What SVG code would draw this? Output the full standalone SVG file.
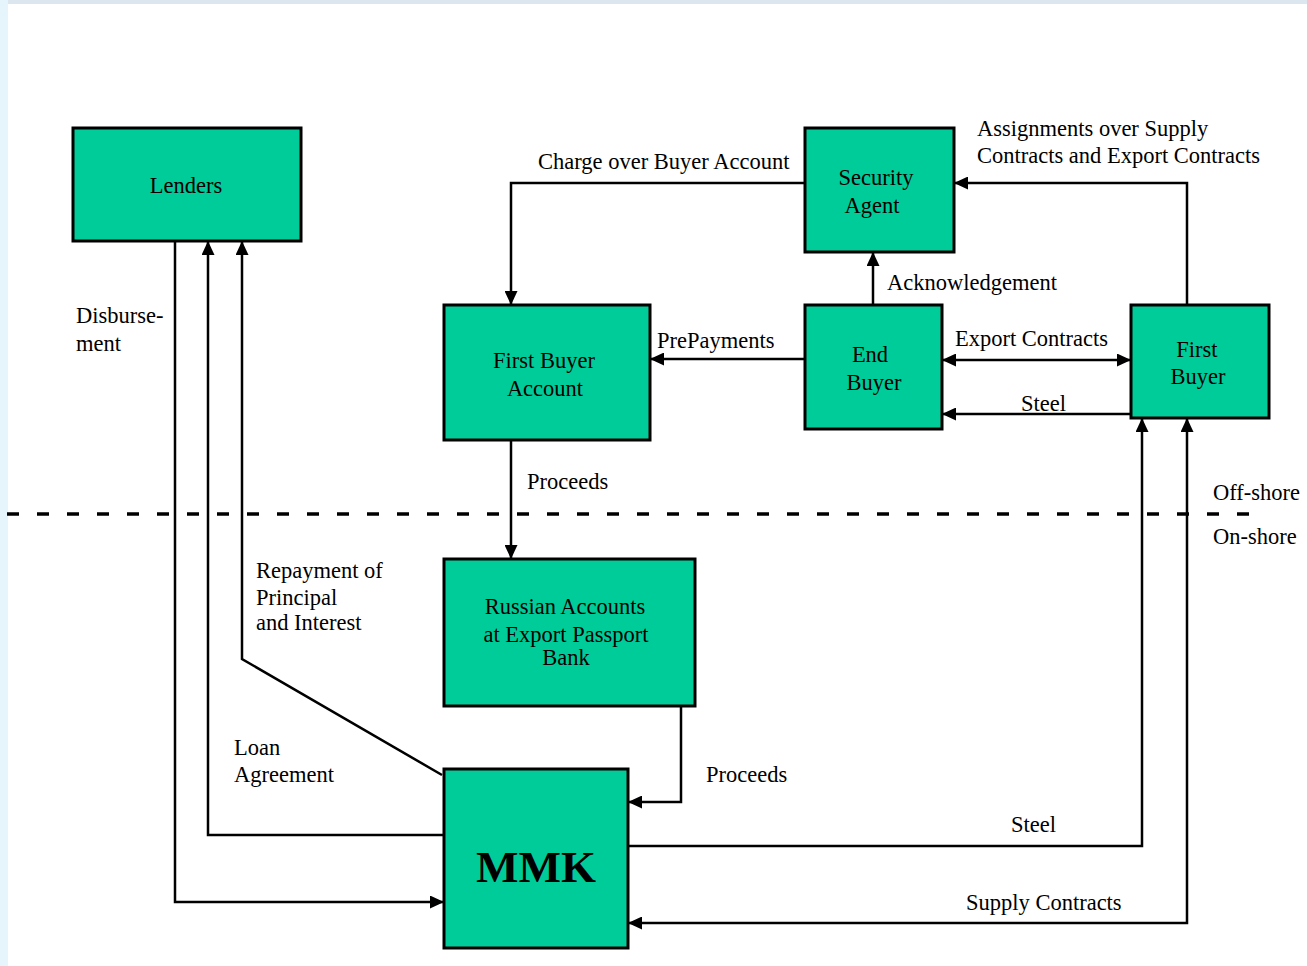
<svg xmlns="http://www.w3.org/2000/svg" width="1307" height="966" viewBox="0 0 1307 966">
<defs>
<marker id="ah" viewBox="0 0 14 13" refX="14" refY="6.5" markerWidth="14" markerHeight="13" markerUnits="userSpaceOnUse" orient="auto-start-reverse">
<path d="M0,0 L14,6.5 L0,13 Z" fill="#000"/>
</marker>
<style>
.box{fill:#00CC99;stroke:#000;stroke-width:3}
.t{font-family:"Liberation Serif","Times New Roman",serif;font-size:22.5px;fill:#000}
.c{text-anchor:middle}
.ln{fill:none;stroke:#000;stroke-width:2.5}
.a{marker-end:url(#ah)}
.b{marker-start:url(#ah);marker-end:url(#ah)}
</style>
</defs>
<rect x="0" y="0" width="1307" height="966" fill="#fff"/>
<rect x="0" y="0" width="1307" height="4" fill="#dbe6ef"/>
<rect x="0" y="0" width="8" height="966" fill="#e6f4fb"/>

<g id="connectors">
<line x1="7" y1="514" x2="1250" y2="514" stroke="#000" stroke-width="3.5" stroke-dasharray="12 18"/>
<polyline class="ln a" points="175,238 175,902 444,902"/>
<polyline class="ln a" points="444,835 208,835 208,241"/>
<polyline class="ln a" points="442,775 242,659 242,241"/>
<polyline class="ln a" points="805,183 511,183 511,305"/>
<polyline class="ln a" points="873,305 873,252"/>
<polyline class="ln a" points="1187,305 1187,183 954,183"/>
<polyline class="ln a" points="805,359 650,359"/>
<polyline class="ln b" points="942,360 1131,360"/>
<polyline class="ln a" points="1131,414 942,414"/>
<polyline class="ln a" points="511,437 511,559"/>
<polyline class="ln a" points="681,702 681,802 628,802"/>
<polyline class="ln a" points="624,846 1142,846 1142,418"/>
<polyline class="ln b" points="1187,418 1187,923 628,923"/>
</g>

<g id="lenders"><rect class="box" x="73" y="128" width="228" height="113"/><text class="t c" x="186" y="193">Lenders</text></g>
<g id="security-agent"><rect class="box" x="805" y="128" width="149" height="124"/><text class="t c" x="876" y="185">Security</text><text class="t c" x="872" y="213">Agent</text></g>
<g id="first-buyer-account"><rect class="box" x="444" y="305" width="206" height="135"/><text class="t c" x="544" y="368">First Buyer</text><text class="t c" x="545" y="396">Account</text></g>
<g id="end-buyer"><rect class="box" x="805" y="305" width="137" height="124"/><text class="t c" x="870" y="362">End</text><text class="t c" x="874" y="390">Buyer</text></g>
<g id="first-buyer"><rect class="box" x="1131" y="305" width="138" height="113"/><text class="t c" x="1197" y="357">First</text><text class="t c" x="1198" y="384">Buyer</text></g>
<g id="russian-accounts"><rect class="box" x="444" y="559" width="251" height="147"/><text class="t c" x="565" y="614">Russian Accounts</text><text class="t c" x="566" y="642">at Export Passport</text><text class="t c" x="566" y="665">Bank</text></g>
<g id="mmk"><rect class="box" x="444" y="769" width="184" height="179"/><text class="c" x="536" y="882" font-family="Liberation Serif,'Times New Roman',serif" font-size="45" font-weight="bold">MMK</text></g>

<g id="labels">
<text class="t" x="538" y="169">Charge over Buyer Account</text>
<text class="t" x="977" y="136">Assignments over Supply</text>
<text class="t" x="977" y="163">Contracts and Export Contracts</text>
<text class="t" x="887" y="290">Acknowledgement</text>
<text class="t" x="657" y="348">PrePayments</text>
<text class="t" x="955" y="346">Export Contracts</text>
<text class="t" x="1021" y="411">Steel</text>
<text class="t" x="76" y="323">Disburse-</text>
<text class="t" x="76" y="351">ment</text>
<text class="t" x="527" y="489">Proceeds</text>
<text class="t" x="1213" y="500">Off-shore</text>
<text class="t" x="1213" y="544">On-shore</text>
<text class="t" x="256" y="578">Repayment of</text>
<text class="t" x="256" y="605">Principal</text>
<text class="t" x="256" y="630">and Interest</text>
<text class="t" x="234" y="755">Loan</text>
<text class="t" x="234" y="782">Agreement</text>
<text class="t" x="706" y="782">Proceeds</text>
<text class="t" x="1011" y="832">Steel</text>
<text class="t" x="966" y="910">Supply Contracts</text>
</g>
</svg>
